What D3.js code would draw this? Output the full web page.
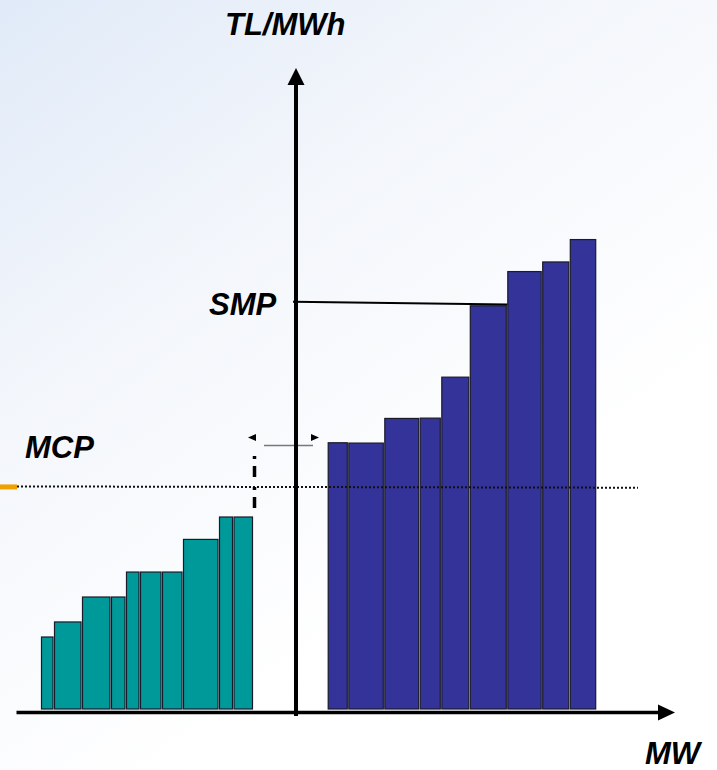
<!DOCTYPE html>
<html><head><meta charset="utf-8">
<script src="https://cdn.jsdelivr.net/npm/d3@7"></script>
<style>html,body{margin:0;padding:0;background:#fff;}svg{display:block;}</style>
</head><body>
<svg id="c" width="717" height="770"></svg>
<script>
// ---- data ----
const tealStart = -255;                       // MW, left block start
const tealWidths = [13, 28, 29, 15, 14, 22, 21, 36, 14.5, 20];   // MW
const tealPrices = [22.5, 27.2, 35, 35, 42.8, 42.8, 42.8, 53, 60, 60]; // TL/MWh
const blueStart = 31.7;
const blueWidths = [20.6, 36, 35.4, 21.6, 28.5, 37.5, 34.9, 27.6, 26.9];
const bluePrices = [83.2, 83.1, 90.8, 90.9, 103.7, 126, 136.7, 139.7, 146.7];
const MCP = 69.4;
const SMP = [127.3, 126.4];      // SMP line: at axis, at bar 6
const axisLabels = {y: "TL/MWh", x: "MW", smp: "SMP", mcp: "MCP"};

// ---- scales ----
const x = d3.scaleLinear().domain([-280, 380]).range([16, 676]);
const y = d3.scaleLinear().domain([0, 200]).range([709, 69]);

const svg = d3.select("#c");
const defs = svg.append("defs");
const g1 = defs.append("linearGradient").attr("id","bg").attr("x1","0").attr("y1","0").attr("x2","0.55").attr("y2","0.8");
g1.append("stop").attr("offset","0").attr("stop-color","#e0eaf8");
g1.append("stop").attr("offset","0.45").attr("stop-color","#f3f6fb");
g1.append("stop").attr("offset","1").attr("stop-color","#ffffff");
svg.append("rect").attr("width",717).attr("height",770).attr("fill","url(#bg)");

function cum(start, widths, prices){
  let s = start;
  return widths.map((w,i)=>{ const d={x0:s,x1:s+w,p:prices[i]}; s+=w; return d; });
}
const teal = cum(tealStart, tealWidths, tealPrices);
const blue = cum(blueStart, blueWidths, bluePrices);

function drawBars(data, fill){
  svg.append("g").selectAll("rect").data(data).join("rect")
    .attr("x", d=>x(d.x0)+0.5)
    .attr("width", d=>x(d.x1)-x(d.x0)-1.5)
    .attr("y", d=>y(d.p))
    .attr("height", d=>y(0)-y(d.p))
    .attr("fill", fill)
    .attr("stroke", "#1a1a2a")
    .attr("stroke-width", 1.2);
}
drawBars(teal, "#009999");
drawBars(blue, "#333399");

// MCP dotted line
svg.append("line").attr("x1", 17).attr("x2", 638)
  .attr("y1", y(MCP)-0.5).attr("y2", y(MCP)+0.8)
  .attr("stroke","#111").attr("stroke-width",2).attr("stroke-dasharray","2,2");
svg.append("rect").attr("x",0).attr("y",y(MCP)-2.5).attr("width",17).attr("height",5).attr("fill","#f0a000");

// SMP line
const b6 = blue[5];
svg.append("line").attr("x1", x(-3)).attr("y1", y(SMP[0]))
  .attr("x2", x(b6.x1)).attr("y2", y(SMP[1]))
  .attr("stroke","#000").attr("stroke-width",2);

// dash-dot vertical at end of teal block
const tEnd = teal[teal.length-1];
svg.append("line").attr("x1", x(tEnd.x1)+1).attr("x2", x(tEnd.x1)+1)
  .attr("y1", 456).attr("y2", y(tEnd.p))
  .attr("stroke","#000").attr("stroke-width",3.5).attr("stroke-dasharray","3,7,11,10");

// gap double arrow
svg.append("line").attr("x1", 264).attr("x2", 313).attr("y1", 445.5).attr("y2", 445.5)
  .attr("stroke","#777").attr("stroke-width",1.5);
svg.append("path").attr("d","M248,437.5 L256,434 L256,441 Z").attr("fill","#000");
svg.append("path").attr("d","M319,437.5 L311,434 L311,441 Z").attr("fill","#000");

// axes
svg.append("line").attr("x1", x(0)).attr("x2", x(0)).attr("y1", 716).attr("y2", y(195))
  .attr("stroke","#000").attr("stroke-width",4);
svg.append("path").attr("d", `M${x(0)},${y(200.3)} L${x(0)-8.5},${y(195)} L${x(0)+8.5},${y(195)} Z`).attr("fill","#000");
svg.append("line").attr("x1", 16.5).attr("x2", x(362)).attr("y1", 712.5).attr("y2", 712.5)
  .attr("stroke","#000").attr("stroke-width",3.5);
svg.append("path").attr("d", `M${x(379)},712.5 L${x(362)},704.5 L${x(362)},720.5 Z`).attr("fill","#000");

// labels
const font = "'Liberation Sans', Arial, sans-serif";
function label(t, xx, yy){
  svg.append("text").attr("x",xx).attr("y",yy).text(t)
    .attr("font-family",font).attr("font-weight","bold").attr("font-style","italic")
    .attr("font-size",31).attr("fill","#000");
}
label(axisLabels.y, 225, 35);
label(axisLabels.smp, 209, 315);
label(axisLabels.mcp, 25, 458);
label(axisLabels.x, 645, 764);
</script>
</body></html>
